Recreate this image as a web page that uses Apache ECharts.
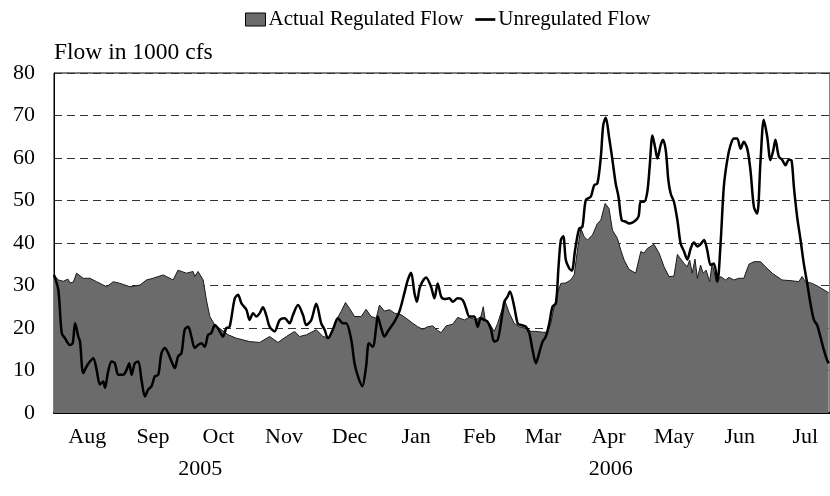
<!DOCTYPE html>
<html>
<head>
<meta charset="utf-8">
<script src="https://cdn.jsdelivr.net/npm/echarts@6/dist/echarts.min.js"></script>
<style>
  html, body { margin: 0; padding: 0; background: #fff; }
  #flow { width: 830px; height: 496px; }
</style>
</head>
<body>
<div id="flow"></div>
<script>
// days counted from 1 Aug 2005, flows in 1000 cfs
var regDay = [0, 2.0, 4.3, 6.5, 7.5, 9.0, 10.5, 13.6, 16.7, 19.8, 24.5, 27.6, 30.7, 35.3, 40.0, 43.0, 46.1, 50.8, 55.4, 57.7, 61.6, 64.7, 65.5, 67.0, 69.4, 70.9, 72.5, 74.8, 77.9, 81.0, 84.8,
  91.0, 95.7, 100.3, 104.2, 108.1, 111.9, 114.3, 117.4, 122.0, 125.1, 128.2, 131.3, 133.6, 135.6, 137.5, 139.8, 142.9, 145.2, 147.5, 149.9, 151.4, 153.7, 156.1, 158.4, 161.5, 163.8, 166.9,
  169.2, 171.5, 173.9, 176.2, 178.5, 180.1, 182.4, 185.5, 187.8, 190.9, 193.2, 196.3, 198.6, 199.7, 200.6, 202.5, 204.8, 206.4, 207.9, 209.9, 211.8, 214.1, 216.4, 219.5, 221.9, 224.2, 227.3, 229.6, 231.1, 232.7, 234.2, 235.8, 238.1, 240.4, 242.0, 243.5, 245.1, 246.6, 248.2, 250.5,
  252.8, 254.4, 256.4, 258.2, 259.8, 262.1, 263.7, 265.2, 267.5, 270.6, 273.0, 274.5, 276.0, 279.1, 281.5, 283.8, 286.1, 288.4, 290.0, 291.5, 293.1, 294.6, 295.7, 296.9, 298.2, 299.3, 300.8, 302.0, 303.4, 305.0, 306.2, 308.1, 310.1, 312.4, 314.0, 316.3, 318.6, 320.9, 323.3, 325.6, 328.7, 331.0, 334.1, 338.7, 343.4, 346.5, 348.0, 349.6, 352.7, 355.8, 360.4];
var regFlow = [32.5, 31.3, 31.0, 31.5, 30.6, 30.8, 32.9, 31.7, 31.7, 30.9, 29.7, 30.9, 30.5, 29.7, 30.1, 31.3, 31.7, 32.5, 31.3, 33.6, 32.9, 33.3, 32.1, 33.3, 31.3, 26.6, 22.7, 20.7, 19.6, 18.4, 17.6,
  16.8, 16.6, 18.0, 16.6, 18.0, 19.2, 18.0, 18.4, 19.6, 18.0, 17.6, 21.9, 23.9, 26.0, 24.6, 22.7, 22.7, 24.4, 22.7, 22.3, 25.4, 24.0, 24.3, 23.5, 23.1, 22.3, 21.1,
  20.3, 19.7, 20.3, 20.5, 19.4, 18.9, 20.5, 20.9, 22.5, 21.9, 22.5, 21.9, 22.7, 25.0, 21.9, 21.1, 19.2, 21.1, 23.5, 26.2, 23.5, 21.1, 20.3, 19.9, 19.2, 19.2, 19.0, 19.0, 21.1, 25.0, 28.2, 30.5, 30.6, 31.3, 32.5, 38.3, 43.4, 41.5, 40.7, 41.9,
  44.6, 45.4, 49.3, 48.1, 43.0, 41.1, 38.3, 36.0, 33.8, 32.9, 38.0, 37.6, 38.7, 39.7, 37.6, 34.4, 32.1, 32.2, 37.3, 36.3, 35.2, 34.4, 36.0, 32.9, 36.2, 31.7, 34.8, 32.9, 33.6, 30.9, 35.2, 30.9, 32.1, 31.3, 31.9, 31.3, 31.7, 31.7, 35.0, 35.6, 35.6, 34.4, 32.9, 31.3, 31.1, 30.9, 32.1, 30.9, 30.5, 29.7, 28.3];

var unregDay = [0, 2.0, 3.6, 5.1, 7.4, 8.7, 9.8, 11.3, 12.1, 13.6, 15.2, 16.7, 18.3, 19.8, 21.4, 22.9, 23.7, 25.2, 26.8, 28.3, 29.9, 32.2, 33.8, 35.0, 36.1, 37.6, 39.2, 40.7, 42.3, 43.8, 45.4, 46.9, 48.5, 50.0, 51.6, 53.1, 54.7, 56.2, 57.7, 59.3, 60.8, 62.4, 63.9, 65.5, 67.0, 68.6, 70.1, 71.7, 73.2, 74.8, 76.3,
  77.1, 78.6, 80.2, 81.7, 84.1, 85.6, 87.2, 89.5, 91.0, 92.6, 94.1, 95.7, 97.2, 98.8, 100.3, 102.6, 105.0, 107.3, 109.6, 111.2, 113.5, 115.8, 117.4, 119.7, 122.0, 124.3, 125.9, 127.4, 129.7, 132.1, 134.4, 135.9, 138.3, 139.8, 141.4, 143.4, 145.2, 146.5, 148.3, 149.9, 150.6, 152.2, 153.7, 155.3, 156.8, 158.4, 160.7,
  163.0, 164.6, 166.1, 167.7, 168.8, 170.3, 173.1, 175.4, 177.0, 178.5, 180.1, 181.6, 183.9, 185.5, 187.8, 190.1, 191.7, 193.2, 195.5, 197.1, 198.6, 200.2, 201.7, 203.3, 204.8, 206.4, 207.9, 209.5, 211.0, 212.1, 214.1, 215.7, 217.2, 219.5, 221.1, 222.6, 224.2, 225.7, 227.3, 228.8, 230.4, 231.9, 233.5, 234.7, 235.8, 236.9, 238.1, 239.7, 240.9, 242.4, 244.3, 245.8, 247.4, 249.7, 251.3,
  252.8, 254.4, 255.5, 256.7, 258.2, 259.8, 261.3, 262.6, 264.1, 266.0, 267.5, 269.8, 271.9, 272.9, 274.5, 276.0, 277.1, 278.4, 279.6, 280.7, 282.2, 283.3, 284.6, 285.8, 286.9, 288.4, 290.0, 291.5, 293.1, 294.6, 296.2, 297.7, 299.3, 300.8, 302.4, 303.9, 305.5, 307.0, 308.6, 310.1, 311.6, 313.2, 314.7, 316.3, 317.8, 319.4, 320.9, 322.5, 324.0, 325.6, 327.1, 328.7, 330.2, 331.8, 333.3, 334.6, 335.6, 337.2, 338.7, 340.3, 341.8, 343.1, 344.2, 345.7, 347.3, 348.8, 350.4, 351.9, 353.5, 355.0, 356.5, 358.1, 359.6, 360.4];
var unregFlow = [32.5, 29.0, 18.8, 17.6, 16.0, 16.4, 21.1, 18.0, 16.8, 9.4, 11.0, 12.1, 12.9, 10.2, 6.7, 7.4, 5.9, 9.8, 12.1, 11.7, 9.0, 9.0, 10.2, 11.7, 9.0, 11.7, 12.1, 7.8, 3.9, 5.5, 6.3, 8.6, 9.0, 14.1, 15.3, 14.1, 12.1, 10.6, 13.3, 14.1, 19.6, 20.3, 18.0, 15.3, 16.0, 16.4, 15.6, 18.4, 18.8, 20.7, 19.9,
  19.2, 18.0, 20.0, 20.3, 27.0, 27.8, 25.8, 24.3, 21.9, 23.5, 22.7, 23.5, 24.9, 22.9, 20.3, 19.2, 21.9, 22.3, 21.1, 23.1, 25.4, 23.1, 20.7, 21.9, 25.7, 21.1, 19.6, 17.6, 19.6, 22.3, 21.1, 21.1, 17.2, 11.7, 8.6, 6.3, 11.0, 16.4, 15.6, 20.3, 22.7, 20.0, 18.0, 19.2, 20.3, 21.5, 23.9,
  28.2, 31.3, 33.0, 28.2, 26.2, 29.7, 31.9, 29.7, 27.0, 30.5, 27.4, 26.8, 27.0, 26.2, 27.0, 26.6, 24.6, 22.7, 22.7, 20.3, 22.3, 21.9, 21.5, 19.6, 16.8, 17.2, 21.1, 26.2, 27.4, 28.6, 25.0, 21.1, 20.7, 20.3, 18.8, 14.9, 11.7, 14.1, 16.8, 18.0, 21.1, 25.0, 25.8, 34.4, 40.7, 41.6, 36.0, 34.0, 33.5, 38.3, 43.4, 43.8, 50.1, 50.9, 53.6,
  54.0, 60.3, 67.7, 69.5, 65.0, 59.5, 54.0, 50.9, 45.4, 45.0, 44.6, 45.0, 46.2, 49.7, 49.7, 52.0, 57.9, 65.3, 62.6, 59.9, 63.0, 64.3, 61.8, 54.8, 51.6, 49.7, 45.4, 39.9, 38.0, 36.1, 38.7, 40.1, 39.2, 39.7, 40.7, 38.3, 34.8, 35.2, 30.9, 39.9, 53.2, 59.5, 63.0, 64.6, 64.6, 62.2, 63.8, 62.2, 57.1, 48.5, 46.9, 59.5, 69.0, 65.0, 59.5, 61.8, 64.3, 60.3, 59.6, 58.3, 59.6, 59.4, 53.2, 46.2, 40.7, 35.2, 30.5, 25.8, 21.9, 20.7, 18.0, 14.9, 12.5, 11.7];

var monthNames = ['Aug', 'Sep', 'Oct', 'Nov', 'Dec', 'Jan', 'Feb', 'Mar', 'Apr', 'May', 'Jun', 'Jul'];
var monthMid = [15.5, 46, 76.5, 107, 137.5, 168.5, 198, 227.5, 258, 288.5, 319, 349.5];
var yearNames = ['2005', '2006'];
var yearMid = [68, 259];

var font = 'Liberation Serif';

function pairs(xs, ys) {
  var out = [];
  for (var i = 0; i < xs.length; i++) out.push([xs[i], ys[i]]);
  return out;
}

var chart = echarts.init(document.getElementById('flow'));

var option = {
  animation: false,
  title: {
    text: 'Flow in 1000 cfs',
    left: 54, top: 41, padding: 0,
    textStyle: { fontFamily: font, fontSize: 23.5, fontWeight: 'normal', color: '#000' }
  },
  legend: {
    top: 4, left: 240,
    itemWidth: 20, itemHeight: 13, itemGap: 12,
    textStyle: { fontFamily: font, fontSize: 21, color: '#000', padding: [0, 0, 0, -2] },
    data: [
      { name: 'Actual Regulated Flow', icon: 'rect', itemStyle: { color: '#6b6b6b', borderColor: '#000', borderWidth: 1 } },
      { name: 'Unregulated Flow', icon: 'path://M0,0H22V3H0Z', itemStyle: { color: '#000', borderWidth: 0 } }
    ]
  },
  grid: {
    left: 54, right: -2, top: 73, bottom: 83,
    show: true, borderColor: '#000', borderWidth: 1
  },
  xAxis: [
    {
      type: 'value', min: 0, max: 361,
      axisLine: { show: true, lineStyle: { color: '#000', width: 2 } },
      axisTick: { show: false },
      splitLine: { show: false },
      axisLabel: {
        customValues: monthMid, margin: 13,
        fontFamily: font, fontSize: 22, color: '#000',
        formatter: function (v) { return monthNames[monthMid.indexOf(v)]; }
      }
    },
    {
      type: 'value', min: 0, max: 361, position: 'bottom', offset: 45,
      axisLine: { show: false }, axisTick: { show: false }, splitLine: { show: false },
      axisLabel: {
        customValues: yearMid, margin: 0,
        fontFamily: font, fontSize: 22, color: '#000',
        formatter: function (v) { return yearNames[yearMid.indexOf(v)]; }
      }
    }
  ],
  yAxis: {
    type: 'value', min: 0, max: 80, interval: 10,
    axisLine: { show: true, lineStyle: { color: '#000', width: 1 } },
    axisTick: { show: false },
    axisLabel: { margin: 19, fontFamily: font, fontSize: 22, color: '#000' },
    splitLine: { show: true, lineStyle: { color: '#333', width: 1, type: [8, 5] } }
  },
  series: [
    {
      name: 'Actual Regulated Flow',
      type: 'line',
      symbol: 'none',
      data: pairs(regDay, regFlow),
      itemStyle: { color: '#6b6b6b' },
      lineStyle: { color: '#1a1a1a', width: 1 },
      areaStyle: { color: '#6b6b6b', opacity: 1 },
      z: 2
    },
    {
      name: 'Unregulated Flow',
      type: 'line',
      symbol: 'none',
      smooth: 0.3,
      data: pairs(unregDay, unregFlow),
      itemStyle: { color: '#000' },
      lineStyle: { color: '#000', width: 2.5 },
      z: 3
    }
  ]
};

chart.setOption(option);
</script>
</body>
</html>
